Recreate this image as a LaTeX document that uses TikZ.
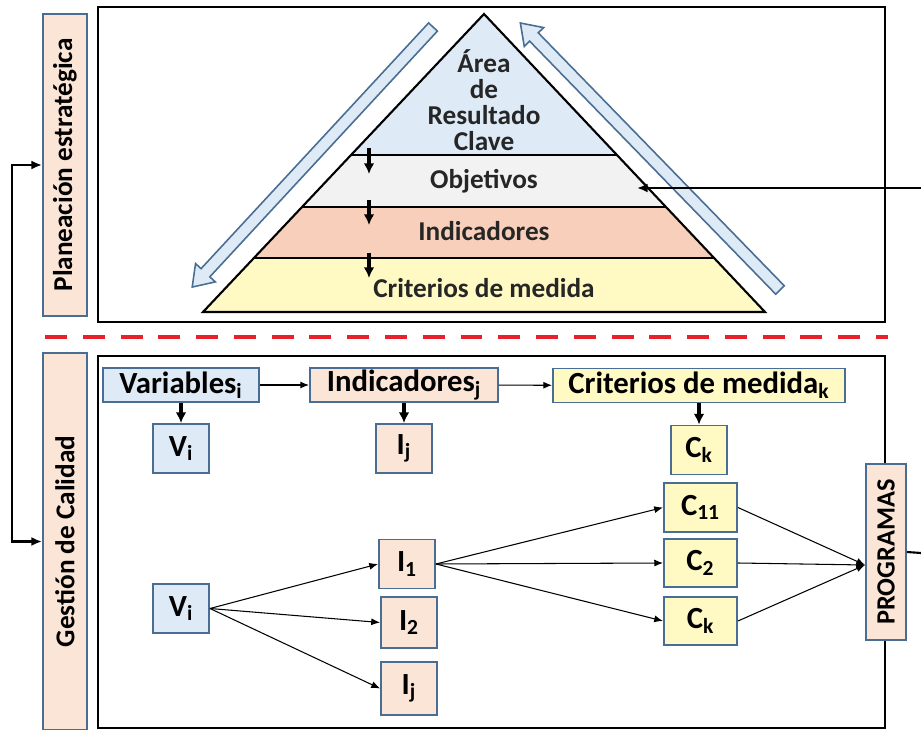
\documentclass[tikz,border=0pt]{standalone}
\usepackage{fontspec}
\setmainfont{Carlito}
\usepackage{xcolor}
\definecolor{azulclaro}{HTML}{DEEBF7}
\definecolor{grisclaro}{HTML}{F2F2F2}
\definecolor{salmonpir}{HTML}{F8CFBA}
\definecolor{salmonclaro}{HTML}{FBE5D6}
\definecolor{amarillo}{HTML}{FFF9C4}
\definecolor{bordeazul}{HTML}{4A6D94}
\definecolor{rojo}{HTML}{E8202A}
\usepackage{tikz}
\usetikzlibrary{positioning,arrows.meta,calc}

\begin{document}
\begin{tikzpicture}[x=0.02cm,y=-0.02cm,
  marco/.style={draw=black,line width=1.2pt},
  etiqueta/.style={draw=bordeazul,fill=salmonclaro,line width=1.1pt,rotate=90,inner sep=0pt,minimum height=0.88cm,font=\fontsize{15.5}{17}\selectfont\bfseries},
  caja/.style={draw=bordeazul,line width=1.1pt,inner sep=0pt,font=\fontsize{17.5}{19}\selectfont\bfseries},
  chica/.style={caja,minimum width=1.12cm,minimum height=0.98cm},
  capa/.style={font=\fontsize{15.5}{16}\selectfont\bfseries,text=black!85},
  baja/.style={-{Latex[length=6pt,width=6pt]},line width=1.8pt},
  fina/.style={-{Latex[length=5pt,width=4pt]},line width=0.6pt},
  hueca/.style={draw=bordeazul,fill=azulclaro,line width=0.9pt,line join=miter}
]
\useasboundingbox (0,0) rectangle (921,730);

% marcos
\draw[marco] (98,7) rectangle (885,322);
\draw[marco] (98,356) rectangle (885,728);

% piramide
\coordinate (cima) at (484,14);
\coordinate (bizq) at (203,312);
\coordinate (bder) at (765,312);
\foreach \t/\n in {0.4732/a,0.6477/b,0.8188/c}{
  \coordinate (i\n) at ($(cima)!\t!(bizq)$);
  \coordinate (d\n) at ($(cima)!\t!(bder)$);
}
\fill[azulclaro] (cima) -- (ia) -- (da) -- cycle;
\fill[grisclaro] (ia) -- (ib) -- (db) -- (da) -- cycle;
\fill[salmonpir] (ib) -- (ic) -- (dc) -- (db) -- cycle;
\fill[amarillo] (ic) -- (bizq) -- (bder) -- (dc) -- cycle;
\draw[marco] (cima) -- (bizq) -- (bder) -- cycle;
\draw[marco] (ia) -- (da) (ib) -- (db) (ic) -- (dc);

\node[capa,align=center] (arc) at (484,100) {Área\\[-1.2pt]de\\[-1.2pt]Resultado\\[-1.2pt]Clave};
\node[capa] (obj) at (484,181) {Objetivos};
\node[capa] (indp) at (484,231) {Indicadores};
\node[capa] (crip) at (484,288) {Criterios de medida};
\foreach \a/\b [count=\k] in {148/174,200/225,253/278}{
  \coordinate (fa\k) at (369,\a);
  \coordinate (fb\k) at (369,\b);
  \draw[baja] (fa\k) -- (fb\k);
}

% flechas huecas
\begin{scope}[shift={(433,27)},rotate=227.2]
  \draw[hueca] (0cm,-0.12cm) -- (6.7cm,-0.12cm) -- (6.7cm,-0.27cm) -- (7.09cm,0cm)
    -- (6.7cm,0.27cm) -- (6.7cm,0.12cm) -- (0cm,0.12cm) -- cycle;
\end{scope}
\begin{scope}[shift={(780,290)},rotate=134.2]
  \draw[hueca] (0cm,-0.12cm) -- (7.06cm,-0.12cm) -- (7.06cm,-0.27cm) -- (7.45cm,0cm)
    -- (7.06cm,0.27cm) -- (7.06cm,0.12cm) -- (0cm,0.12cm) -- cycle;
\end{scope}

\coordinate (objext) at (921,188);
\coordinate (objtip) at (637,188);
\draw[-{Latex[length=6pt,width=5pt]},line width=1.2pt] (objext) -- (objtip);

% separacion
\coordinate (sepa) at (45,337);
\coordinate (sepb) at (888,337);
\draw[rojo,line width=2.3pt,dash pattern=on 12.5pt off 9pt] (sepa) -- (sepb);

% etiquetas laterales
\node[etiqueta,minimum width=6.04cm] (plan) at (65,165) {Planeación estratégica};
\node[etiqueta,minimum width=7.54cm] (gest) at (65,541.5) {Gestión de Calidad};
\draw[{Latex[length=6pt,width=5pt]}-{Latex[length=6pt,width=5pt]},line width=1.4pt] (plan.north) -- ++(-30,0) |- (gest.north);

% gestion de calidad
\node[caja,fill=azulclaro,minimum width=3.12cm,minimum height=0.68cm] (var) at (181,385) {Variables\textsubscript{i}};
\node[caja,fill=salmonclaro,minimum width=3.76cm,minimum height=0.68cm] (ind) at (404,385) {Indicadores\textsubscript{j}};
\node[caja,fill=amarillo,minimum width=5.84cm,minimum height=0.68cm] (cri) at (699,385.5) {Criterios de medida\textsubscript{k}};
\draw[fina] (var) -- (ind);
\draw[fina] (ind) -- (cri);

\node[chica,fill=azulclaro] (vi) at (181,448.5) {V\textsubscript{i}};
\node[chica,fill=salmonclaro] (ij) at (404,448.5) {I\textsubscript{j}};
\node[chica,fill=amarillo] (ck) at (699,450) {C\textsubscript{k}};
\draw[baja] (var) -- (vi);
\draw[baja] (ind) -- (ij);
\draw[baja] (cri) -- (ck);

\node[chica,fill=azulclaro] (vb) at (181,608.5) {V\textsubscript{i}};
\node[chica,fill=salmonclaro] (i1) at (407,564) {I\textsubscript{1}};
\node[chica,fill=salmonclaro,minimum height=1.02cm] (i2) at (409,622.5) {I\textsubscript{2}};
\node[chica,fill=salmonclaro,minimum height=1.06cm] (ijb) at (409,688.5) {I\textsubscript{j}};
\node[chica,fill=amarillo,minimum width=1.46cm] (c11) at (700.5,507.5) {C\textsubscript{11}};
\node[chica,fill=amarillo,minimum width=1.46cm,minimum height=0.96cm] (c2) at (700.5,563) {C\textsubscript{2}};
\node[chica,fill=amarillo,minimum width=1.46cm,minimum height=0.96cm] (ckb) at (700.5,621) {C\textsubscript{k}};
\foreach \d in {i1,i2,ijb} \draw[fina] (vb.east) -- (\d.west);
\foreach \d in {c11,c2,ckb} \draw[fina] (i1.east) -- (\d.west);

\node[etiqueta,minimum width=3.52cm,minimum height=0.8cm,font=\fontsize{15}{17}\selectfont\bfseries] (prog) at (886,552) {PROGRAMAS};
\coordinate (conv) at ($(prog.north)+(0,13)$);
\foreach \o in {c11,c2,ckb} \draw[fina] (\o.east) -- (conv);
\coordinate (progext) at (921,553);
\draw[line width=1.2pt] (prog.south) -- (progext);
\end{tikzpicture}
\end{document}
